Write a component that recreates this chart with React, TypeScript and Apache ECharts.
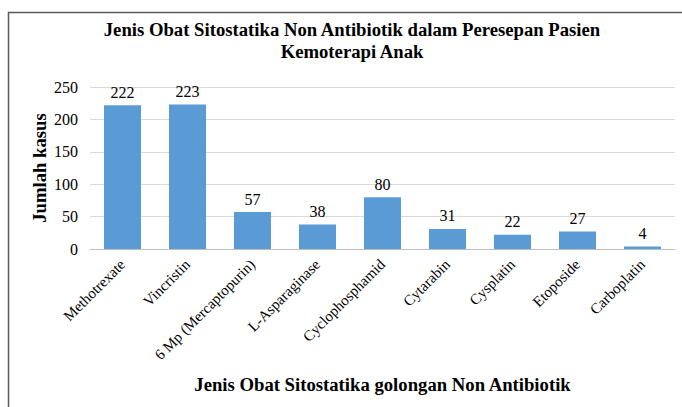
import React, { useEffect, useRef } from "react";
import * as echarts from "echarts";

const categories = [
  "Methotrexate",
  "Vincristin",
  "6 Mp (Mercaptopurin)",
  "L-Asparaginase",
  "Cyclophosphamid",
  "Cytarabin",
  "Cysplatin",
  "Etoposide",
  "Carboplatin",
];
const values = [222, 223, 57, 38, 80, 31, 22, 27, 4];
const titleLines = [
  "Jenis Obat Sitostatika Non Antibiotik dalam Peresepan Pasien",
  "Kemoterapi Anak",
];
const xName = "Jenis Obat Sitostatika golongan Non Antibiotik";
const yName = "Jumlah kasus";

const FONT = "Liberation Serif";
const BOLD = 18.7;

export default function App() {
  const ref = useRef<HTMLDivElement>(null);
  useEffect(() => {
    if (!ref.current) return;
    const chart = echarts.init(ref.current, undefined, { renderer: "svg" });
    chart.setOption({
      animation: false,
      backgroundColor: "#ffffff",
      title: {
        text: titleLines.join("\n"),
        left: 347,
        top: 13,
        textAlign: "center",
        textStyle: {
          fontFamily: FONT,
          fontSize: BOLD,
          fontWeight: "bold",
          color: "#000",
          lineHeight: 22,
        },
      },
      graphic: [
        {
          type: "rect",
          shape: { x: 8.5, y: 12.5, width: 700, height: 420 },
          style: { fill: "none", stroke: "#595959", lineWidth: 1.5 },
          z: -1,
        },
        {
          type: "text",
          x: 39,
          y: 168,
          rotation: Math.PI / 2,
          style: {
            text: yName,
            fontFamily: FONT,
            fontSize: BOLD,
            fontWeight: "bold",
            fill: "#000",
            align: "center",
            verticalAlign: "middle",
          },
        },
      ],
      grid: { left: 90, right: 7, top: 87, bottom: 158, containLabel: false },
      xAxis: {
        type: "category",
        data: categories,
        name: xName,
        nameLocation: "middle",
        nameGap: 126,
        nameTextStyle: {
          fontFamily: FONT,
          fontSize: BOLD,
          fontWeight: "bold",
          color: "#000",
        },
        axisLine: { lineStyle: { color: "#bfbfbf", width: 1 } },
        axisTick: { show: false },
        axisLabel: {
          interval: 0,
          rotate: 45,
          fontFamily: FONT,
          fontSize: 15,
          color: "#000",
          margin: 13,
        },
      },
      yAxis: {
        type: "value",
        min: 0,
        max: 250,
        interval: 50,
        axisLine: { show: false },
        axisTick: { show: false },
        axisLabel: {
          fontFamily: FONT,
          fontSize: 16,
          color: "#000",
          margin: 12,
        },
        splitLine: { lineStyle: { color: "#d9d9d9", width: 1 } },
      },
      series: [
        {
          type: "bar",
          data: values,
          barWidth: 37,
          itemStyle: { color: "#5b9bd5" },
          label: {
            show: true,
            position: "top",
            distance: 5,
            fontFamily: FONT,
            fontSize: 16,
            color: "#000",
          },
        },
      ],
    });
    return () => chart.dispose();
  }, []);
  return (
    <div
      ref={ref}
      style={{ position: "fixed", left: 0, top: 0, width: 682, height: 407 }}
    />
  );
}
